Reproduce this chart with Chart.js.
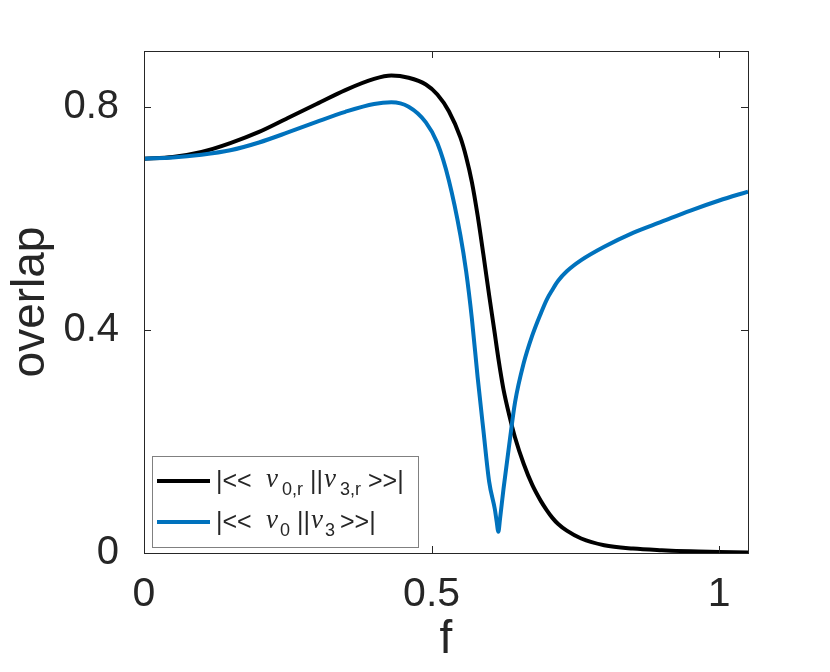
<!DOCTYPE html>
<html>
<head>
<meta charset="utf-8">
<script src="https://cdn.jsdelivr.net/npm/chart.js@4.4.0/dist/chart.umd.min.js"></script>
<style>
  html, body { margin: 0; background: #fff; }
  #wrap { width: 830px; height: 672px; }
</style>
</head>
<body>
<div id="wrap"><canvas id="overlapChart"></canvas></div>
<script>
// f values shared by both curves
const fVals = [0, 0.05, 0.1, 0.15, 0.2, 0.25, 0.3, 0.35, 0.4, 0.43, 0.46, 0.49, 0.51, 0.53, 0.55,
  0.56, 0.57, 0.58, 0.59, 0.6, 0.61, 0.613, 0.616, 0.619, 0.625, 0.635, 0.645, 0.66, 0.675, 0.69, 0.70, 0.71, 0.72, 0.735,
  0.76, 0.8, 0.85, 0.9, 0.95, 1.0, 1.05];
// |<< nu_0,r || nu_3,r >>|
const overlapRes = [0.707, 0.710, 0.719, 0.735, 0.755, 0.780, 0.805, 0.830, 0.850, 0.856, 0.852, 0.840, 0.822, 0.792, 0.745,
  0.710, 0.665, 0.605, 0.535, 0.462, 0.392, 0.370, 0.349, 0.329, 0.293, 0.247, 0.207, 0.160, 0.122, 0.093, 0.077, 0.063, 0.052, 0.040,
  0.026, 0.014, 0.008, 0.005, 0.003, 0.002, 0.001];
// |<< nu_0 || nu_3 >>|
const overlapBare = [0.707, 0.709, 0.714, 0.722, 0.736, 0.754, 0.773, 0.791, 0.805, 0.808, 0.800, 0.772, 0.735, 0.668, 0.570,
  0.505, 0.420, 0.315, 0.220, 0.128, 0.078, 0.057, 0.038, 0.062, 0.115, 0.195, 0.270, 0.340, 0.390, 0.430, 0.454, 0.472, 0.488, 0.505,
  0.525, 0.549, 0.574, 0.594, 0.614, 0.632, 0.648];
const xTicks = [0, 0.5, 1];
const yTicks = [0, 0.4, 0.8];
const xLabel = 'f';
const yLabel = 'overlap';

const AXIS = '#262626';
const FONT = "'Liberation Sans', Arial, sans-serif";

// legend rows: [text, kind, x offset from box left]; kind: n = normal, g = greek, s = subscript
const legendRows = [
  { color: '#000000', parts: [['|<<', 'n', 64], ['ν', 'g', 114], ['0,r', 's', 130], ['||', 'n', 158], ['ν', 'g', 172], ['3,r', 's', 188], ['>>|', 'n', 216]] },
  { color: '#0072BD', parts: [['|<<', 'n', 64], ['ν', 'g', 114], ['0', 's', 128], ['||', 'n', 145], ['ν', 'g', 159], ['3', 's', 173], ['>>|', 'n', 188]] }
];

const boxPlugin = {
  id: 'matlabBox',
  afterDraw(chart) {
    const { ctx, chartArea: a, scales } = chart;
    ctx.save();
    ctx.strokeStyle = AXIS;
    ctx.lineWidth = 1;
    ctx.strokeRect(a.left + 0.5, a.top + 0.5, a.right - a.left, a.bottom - a.top);
    const len = 7;
    ctx.beginPath();
    xTicks.forEach(v => {
      const x = Math.round(scales.x.getPixelForValue(v)) + 0.5;
      ctx.moveTo(x, a.bottom); ctx.lineTo(x, a.bottom - len);
      ctx.moveTo(x, a.top); ctx.lineTo(x, a.top + len);
    });
    yTicks.forEach(v => {
      const y = Math.round(scales.y.getPixelForValue(v)) + 0.5;
      ctx.moveTo(a.left, y); ctx.lineTo(a.left + len, y);
      ctx.moveTo(a.right, y); ctx.lineTo(a.right - len, y);
    });
    ctx.stroke();

    // legend, lower left
    const lx = a.left + 8, ly = a.top + 405, lw = 266, lh = 91;
    ctx.fillStyle = '#fff';
    ctx.fillRect(lx, ly, lw, lh);
    ctx.strokeStyle = '#808080';
    ctx.strokeRect(lx + 0.5, ly + 0.5, lw, lh);
    legendRows.forEach((row, i) => {
      const cy = ly + 25 + i * 41;
      ctx.strokeStyle = row.color;
      ctx.lineWidth = 4;
      ctx.beginPath();
      ctx.moveTo(lx + 5, cy); ctx.lineTo(lx + 58, cy);
      ctx.stroke();
      ctx.fillStyle = AXIS;
      ctx.textBaseline = 'alphabetic';
      row.parts.forEach(([t, kind, off]) => {
        let dy = 8;
        if (kind === 'n') ctx.font = '25px ' + FONT;
        if (kind === 'g') { ctx.font = "italic 27px 'Liberation Serif', serif"; dy = 6; }
        if (kind === 's') { ctx.font = '18px ' + FONT; dy = 14; }
        ctx.fillText(t, lx + off, cy + dy);
      });
    });
    ctx.restore();
  }
};

new Chart(document.getElementById('overlapChart'), {
  type: 'line',
  data: {
    datasets: [
      {
        label: '|<< ν0,r || ν3,r >>|',
        data: fVals.map((f, i) => ({ x: f, y: overlapRes[i] })),
        borderColor: '#000000',
        borderWidth: 4,
        pointRadius: 0,
        cubicInterpolationMode: 'monotone',
        order: 2
      },
      {
        label: '|<< ν0 || ν3 >>|',
        data: fVals.map((f, i) => ({ x: f, y: overlapBare[i] })),
        borderColor: '#0072BD',
        borderWidth: 4,
        pointRadius: 0,
        cubicInterpolationMode: 'monotone',
        order: 1
      }
    ]
  },
  options: {
    responsive: true,
    maintainAspectRatio: false,
    animation: false,
    events: [],
    layout: { padding: { left: 0, top: 51, right: 82, bottom: 0 } },
    plugins: {
      legend: { display: false },
      tooltip: { enabled: false }
    },
    scales: {
      x: {
        type: 'linear',
        min: 0,
        max: 1.05,
        afterBuildTicks: s => { s.ticks = xTicks.map(v => ({ value: v })); },
        afterFit: s => { s.height = 119; },
        grid: { display: false },
        border: { display: false },
        ticks: {
          color: AXIS,
          padding: 9,
          maxRotation: 0,
          font: { family: FONT, size: 41 },
          callback: v => String(v)
        },
        title: {
          display: true,
          text: xLabel,
          color: AXIS,
          font: { family: FONT, size: 46 },
          padding: { top: 0, bottom: 4 }
        }
      },
      y: {
        type: 'linear',
        min: 0,
        max: 0.9,
        afterBuildTicks: s => { s.ticks = yTicks.map(v => ({ value: v })); },
        afterFit: s => { s.width = 144; },
        grid: { display: false },
        border: { display: false },
        ticks: {
          color: AXIS,
          padding: 17,
          font: { family: FONT, size: 40 },
          callback: v => String(v)
        },
        title: {
          display: true,
          text: yLabel,
          color: AXIS,
          font: { family: FONT, size: 46 },
          padding: { top: 4, bottom: 0 }
        }
      }
    }
  },
  plugins: [boxPlugin]
});
</script>
</body>
</html>
